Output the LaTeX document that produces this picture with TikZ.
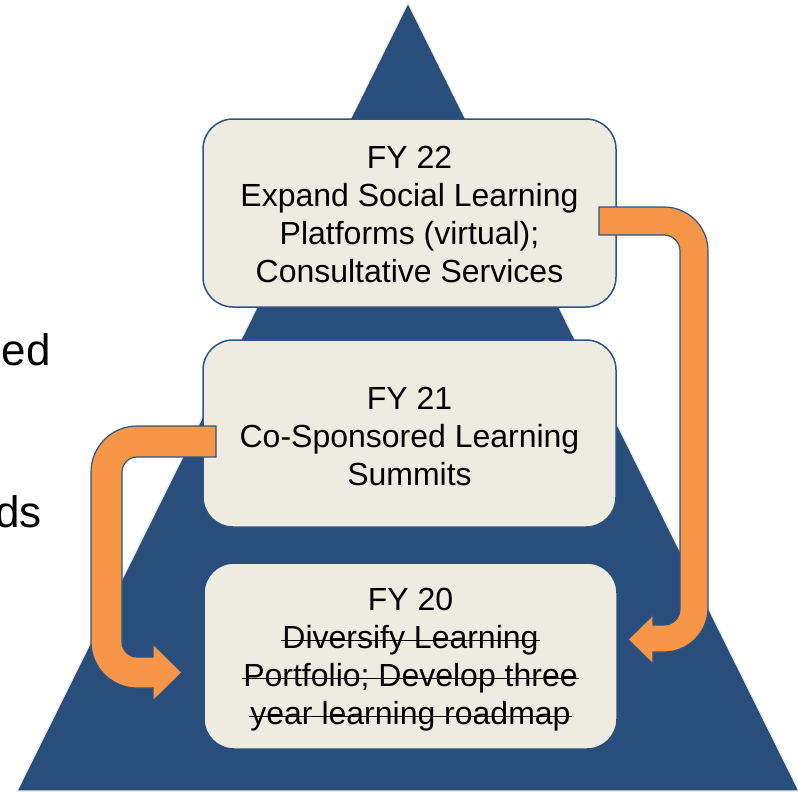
\documentclass[tikz,border=0pt]{standalone}
\usepackage{fontspec}
\setmainfont{Liberation Sans}
\definecolor{pyrblue}{HTML}{2A4E7C}
\definecolor{edgeblue}{HTML}{2C5484}
\definecolor{cream}{HTML}{EEECE1}
\definecolor{turnorange}{HTML}{F79646}
% struck-through text: a rule laid across the word box
\newsavebox{\strkbox}
\newcommand{\strk}[1]{\sbox{\strkbox}{#1}%
  \rlap{\hspace{-1pt}\rule[0.23em]{\dimexpr\wd\strkbox+2pt\relax}{1.6pt}}\usebox{\strkbox}}
\tikzset{
  fybox/.style={draw=edgeblue, line width=1.5pt, fill=cream, rounded corners=30pt,
    minimum width=413pt, inner sep=0pt},
  fytext/.style={align=center, inner sep=0pt,
    font=\fontsize{32}{38}\selectfont, text=black},
  turnarrow/.style={fill=turnorange, draw=edgeblue, line width=1.2pt, line join=miter},
  sidetext/.style={anchor=base east, inner sep=0pt, font=\fontsize{44}{52}\selectfont}
}
\begin{document}
\begin{tikzpicture}[x=1pt, y=-1pt]
\useasboundingbox (0,0) rectangle (798,792);

% pyramid backdrop
\coordinate (apex) at (408,3);
\coordinate (baseL) at (17,791);
\coordinate (baseR) at (799,791);
\filldraw[fill=pyrblue, draw=cream, line width=1.2pt] (apex) -- (baseL) -- (baseR) -- cycle;

% text running in from the left
\node[sidetext] (ed) at (51,365) {ed};
\node[sidetext] (ds) at (42,527) {ds};

% the three fiscal-year stages
\node[fybox, minimum height=188pt] (fy22) at (409.5,213) {};
\node[fybox, minimum height=187pt] (fy21) at (409.5,433.5) {};
\node[fybox, draw=pyrblue, minimum height=186pt] (fy20) at (410.5,656) {};

\node[fytext, yshift=-1.5pt] (fy22text) at (fy22.center)
  {FY 22\\Expand Social Learning\\Platforms (virtual);\\Consultative Services};
\node[fytext, yshift=-2.5pt] (fy21text) at (fy21.center)
  {FY 21\\Co-Sponsored Learning\\Summits};
\node[fytext, yshift=-4pt] (fy20text) at (fy20.center)
  {FY 20\\\strk{Diversify Learning}\\\strk{Portfolio; Develop three}\\\strk{year learning roadmap}};

% bent arrow from FY 22 down to FY 20
\filldraw[turnarrow] (599,207) -- (664,207)
  arc[start angle=-90, end angle=0, radius=44] -- (708,608)
  arc[start angle=0, end angle=90, radius=44] -- (653,652) -- (653,664)
  -- (628,639.5) -- (653,615) -- (653,625) -- (664,625)
  arc[start angle=90, end angle=0, radius=16] -- (680,251)
  arc[start angle=0, end angle=-90, radius=16] -- (599,235) -- cycle;

% bent arrow from FY 21 down to FY 20
\filldraw[turnarrow] (216,426) -- (137,426)
  arc[start angle=-90, end angle=-180, radius=46] -- (91,642)
  arc[start angle=180, end angle=90, radius=46] -- (153,688) -- (153,701)
  -- (182,672.5) -- (153,644) -- (153,657) -- (137,657)
  arc[start angle=90, end angle=180, radius=15] -- (122,472)
  arc[start angle=180, end angle=270, radius=15] -- (216,457) -- cycle;
\end{tikzpicture}
\end{document}
